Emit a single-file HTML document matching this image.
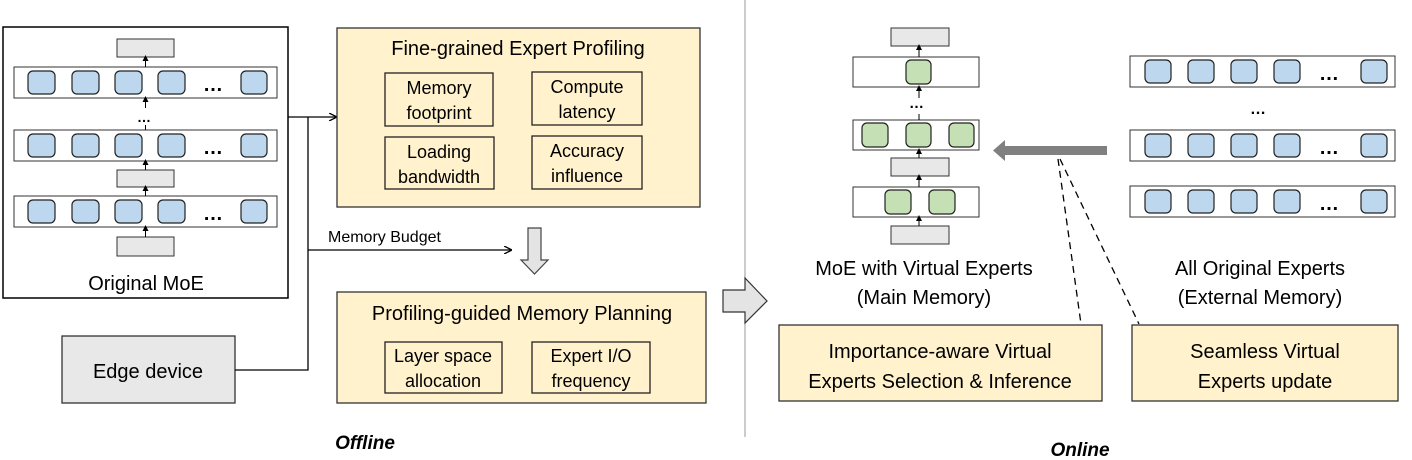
<!DOCTYPE html>
<html><head><meta charset="utf-8"><style>
html,body{margin:0;padding:0;background:#fff;}
svg{display:block;}
text{font-family:"Liberation Sans",Calibri,sans-serif;fill:#000;}
</style></head><body>
<svg width="1412" height="460" viewBox="0 0 1412 460" xmlns="http://www.w3.org/2000/svg">
<defs>
<marker id="ah" markerWidth="8" markerHeight="8" refX="7" refY="4" orient="auto" markerUnits="userSpaceOnUse"><path d="M0,0 L8,4 L0,8" fill="none" stroke="#000" stroke-width="1.3"/></marker>
<marker id="sa" markerWidth="6" markerHeight="6" refX="3" refY="3" orient="auto" markerUnits="userSpaceOnUse"><path d="M0,0 L6,3 L0,6 z" fill="#000"/></marker>
</defs>

<!-- Original MoE -->
<rect x="3" y="27" width="285" height="271" fill="#fff" stroke="#000" stroke-width="1.5"/>
<g stroke="#333" stroke-width="1">
<rect x="117" y="39" width="57" height="18" fill="#e8e8e8"/>
<rect x="117" y="170" width="57" height="17" fill="#e8e8e8"/>
<rect x="117" y="237" width="57" height="19" fill="#e8e8e8"/>
<rect x="14" y="67" width="263" height="31" fill="#fff"/>
<rect x="14" y="130" width="263" height="31" fill="#fff"/>
<rect x="14" y="196" width="263" height="31" fill="#fff"/>
</g>
<g fill="#bdd7ee" stroke="#222" stroke-width="1.2">
<rect x="28" y="71" width="27" height="23" rx="5"/><rect x="72" y="71" width="27" height="23" rx="5"/><rect x="115" y="71" width="27" height="23" rx="5"/><rect x="158" y="71" width="27" height="23" rx="5"/><rect x="241" y="71" width="26" height="23" rx="5"/>
<rect x="28" y="134" width="27" height="23" rx="5"/><rect x="72" y="134" width="27" height="23" rx="5"/><rect x="115" y="134" width="27" height="23" rx="5"/><rect x="158" y="134" width="27" height="23" rx="5"/><rect x="241" y="134" width="26" height="23" rx="5"/>
<rect x="28" y="200" width="27" height="23" rx="5"/><rect x="72" y="200" width="27" height="23" rx="5"/><rect x="115" y="200" width="27" height="23" rx="5"/><rect x="158" y="200" width="27" height="23" rx="5"/><rect x="241" y="200" width="26" height="23" rx="5"/>
</g>
<g font-size="20" font-weight="bold"><text x="203" y="91">…</text><text x="203" y="154">…</text><text x="203" y="220">…</text><text x="137" y="122" font-size="14">…</text></g>
<g stroke="#000" stroke-width="1">
<line x1="145.5" y1="67" x2="145.5" y2="58" marker-end="url(#sa)"/>
<line x1="145.5" y1="108" x2="145.5" y2="99" marker-end="url(#sa)"/>
<line x1="145.5" y1="130" x2="145.5" y2="125"/>
<line x1="145.5" y1="170" x2="145.5" y2="162" marker-end="url(#sa)"/>
<line x1="145.5" y1="196" x2="145.5" y2="188" marker-end="url(#sa)"/>
<line x1="145.5" y1="237" x2="145.5" y2="228" marker-end="url(#sa)"/>
</g>
<text x="146" y="290" font-size="20" text-anchor="middle">Original MoE</text>

<!-- Edge device -->
<rect x="62" y="336" width="173" height="67" fill="#e8e8e8" stroke="#333" stroke-width="1.3"/>
<text x="148" y="378" font-size="20" text-anchor="middle">Edge device</text>

<!-- connectors -->
<g stroke="#000" stroke-width="1.3" fill="none">
<polyline points="235,370 308,370 308,117"/>
<line x1="288" y1="117" x2="336" y2="117" marker-end="url(#ah)"/>
<line x1="308" y1="250" x2="511" y2="250" marker-end="url(#ah)"/>
</g>
<text x="328" y="242" font-size="16">Memory  Budget</text>

<!-- Profiling -->
<rect x="337" y="28" width="363" height="179" fill="#fff2cc" stroke="#333" stroke-width="1.3"/>
<text x="518" y="55" font-size="20" text-anchor="middle">Fine-grained Expert Profiling</text>
<g fill="none" stroke="#222" stroke-width="1.3">
<rect x="385" y="73" width="108" height="53"/><rect x="532" y="72" width="110" height="53"/>
<rect x="385" y="137" width="109" height="52"/><rect x="532" y="136" width="110" height="53"/>
</g>
<g font-size="18" text-anchor="middle">
<text x="439" y="94">Memory</text><text x="439" y="119">footprint</text>
<text x="587" y="93">Compute</text><text x="587" y="118">latency</text>
<text x="439" y="158">Loading</text><text x="439" y="183">bandwidth</text>
<text x="587" y="157">Accuracy</text><text x="587" y="182">influence</text>
</g>

<!-- down arrow -->
<path d="M528,228 L541,228 L541,260 L548,260 L534.5,274 L521,260 L528,260 Z" fill="#e4e4e4" stroke="#444" stroke-width="1.2"/>

<!-- Planning -->
<rect x="337" y="292" width="369" height="111" fill="#fff2cc" stroke="#333" stroke-width="1.3"/>
<text x="522" y="320" font-size="20" text-anchor="middle">Profiling-guided Memory Planning</text>
<g fill="none" stroke="#222" stroke-width="1.3">
<rect x="385" y="342" width="117" height="51"/><rect x="532" y="342" width="118" height="51"/>
</g>
<g font-size="18" text-anchor="middle">
<text x="443" y="362">Layer space</text><text x="443" y="387">allocation</text>
<text x="591" y="362">Expert I/O</text><text x="591" y="387">frequency</text>
</g>
<text x="365" y="449" font-size="19" font-weight="bold" font-style="italic" text-anchor="middle">Offline</text>

<!-- separator -->
<line x1="745" y1="0" x2="745" y2="437" stroke="#999" stroke-width="1"/>
<path d="M723,290 L745,290 L745,278 L767,301 L745,323 L745,312 L723,312 Z" fill="#e4e4e4" stroke="#333" stroke-width="1.2"/>

<!-- Virtual MoE -->
<g stroke="#333" stroke-width="1">
<rect x="891" y="28" width="58" height="18" fill="#e8e8e8"/>
<rect x="891" y="158" width="58" height="18" fill="#e8e8e8"/>
<rect x="891" y="226" width="58" height="18" fill="#e8e8e8"/>
<rect x="853" y="57" width="126" height="30" fill="#fff"/>
<rect x="853" y="120" width="126" height="30" fill="#fff"/>
<rect x="853" y="187" width="126" height="30" fill="#fff"/>
</g>
<g fill="#c5e0b4" stroke="#222" stroke-width="1.2">
<rect x="906" y="60" width="25" height="24" rx="5"/>
<rect x="862" y="123" width="26" height="24" rx="5"/><rect x="906" y="123" width="25" height="24" rx="5"/><rect x="949" y="123" width="25" height="24" rx="5"/>
<rect x="885" y="190" width="26" height="24" rx="5"/><rect x="929" y="190" width="26" height="24" rx="5"/>
</g>
<text x="909" y="108" font-size="15" font-weight="bold">…</text>
<g stroke="#000" stroke-width="1">
<line x1="919" y1="57" x2="919" y2="47" marker-end="url(#sa)"/>
<line x1="919" y1="98" x2="919" y2="88" marker-end="url(#sa)"/>
<line x1="919" y1="120" x2="919" y2="114"/>
<line x1="919" y1="158" x2="919" y2="151" marker-end="url(#sa)"/>
<line x1="919" y1="187" x2="919" y2="177" marker-end="url(#sa)"/>
<line x1="919" y1="226" x2="919" y2="218" marker-end="url(#sa)"/>
</g>
<text x="924" y="275" font-size="20" text-anchor="middle">MoE with Virtual Experts</text>
<text x="924" y="304" font-size="20" text-anchor="middle">(Main Memory)</text>

<!-- big arrow -->
<path d="M1107,146 L1005,146 L1005,140 L993,150.5 L1005,161 L1005,155 L1107,155 Z" fill="#808080"/>

<!-- All original experts -->
<g stroke="#333" stroke-width="1" fill="#fff">
<rect x="1130" y="56" width="265" height="31"/><rect x="1130" y="130" width="265" height="31"/><rect x="1130" y="186" width="265" height="31"/>
</g>
<g fill="#bdd7ee" stroke="#222" stroke-width="1.2">
<rect x="1145" y="60" width="26" height="23" rx="5"/><rect x="1188" y="60" width="26" height="23" rx="5"/><rect x="1231" y="60" width="26" height="23" rx="5"/><rect x="1274" y="60" width="26" height="23" rx="5"/><rect x="1361" y="60" width="26" height="23" rx="5"/>
<rect x="1145" y="134" width="26" height="23" rx="5"/><rect x="1188" y="134" width="26" height="23" rx="5"/><rect x="1231" y="134" width="26" height="23" rx="5"/><rect x="1274" y="134" width="26" height="23" rx="5"/><rect x="1361" y="134" width="26" height="23" rx="5"/>
<rect x="1145" y="190" width="26" height="23" rx="5"/><rect x="1188" y="190" width="26" height="23" rx="5"/><rect x="1231" y="190" width="26" height="23" rx="5"/><rect x="1274" y="190" width="26" height="23" rx="5"/><rect x="1361" y="190" width="26" height="23" rx="5"/>
</g>
<g font-size="20" font-weight="bold"><text x="1319" y="80">…</text><text x="1319" y="154">…</text><text x="1319" y="210">…</text><text x="1250" y="114" font-size="16">…</text></g>
<text x="1260" y="275" font-size="20" text-anchor="middle">All Original Experts</text>
<text x="1260" y="304" font-size="20" text-anchor="middle">(External Memory)</text>

<!-- dashed -->
<g stroke="#000" stroke-width="1.3" stroke-dasharray="7,5" fill="none">
<line x1="1058" y1="159" x2="1081" y2="324"/>
<line x1="1060" y1="159" x2="1139" y2="324"/>
</g>

<!-- bottom boxes -->
<rect x="779" y="325" width="323" height="76" fill="#fff2cc" stroke="#333" stroke-width="1.3"/>
<rect x="1132" y="325" width="266" height="76" fill="#fff2cc" stroke="#333" stroke-width="1.3"/>
<g font-size="20" text-anchor="middle">
<text x="940" y="358">Importance-aware Virtual</text>
<text x="940" y="388">Experts Selection &amp; Inference</text>
<text x="1265" y="358">Seamless Virtual</text>
<text x="1265" y="388">Experts update</text>
</g>
<text x="1080" y="456" font-size="19" font-weight="bold" font-style="italic" text-anchor="middle">Online</text>
</svg>
</body></html>
